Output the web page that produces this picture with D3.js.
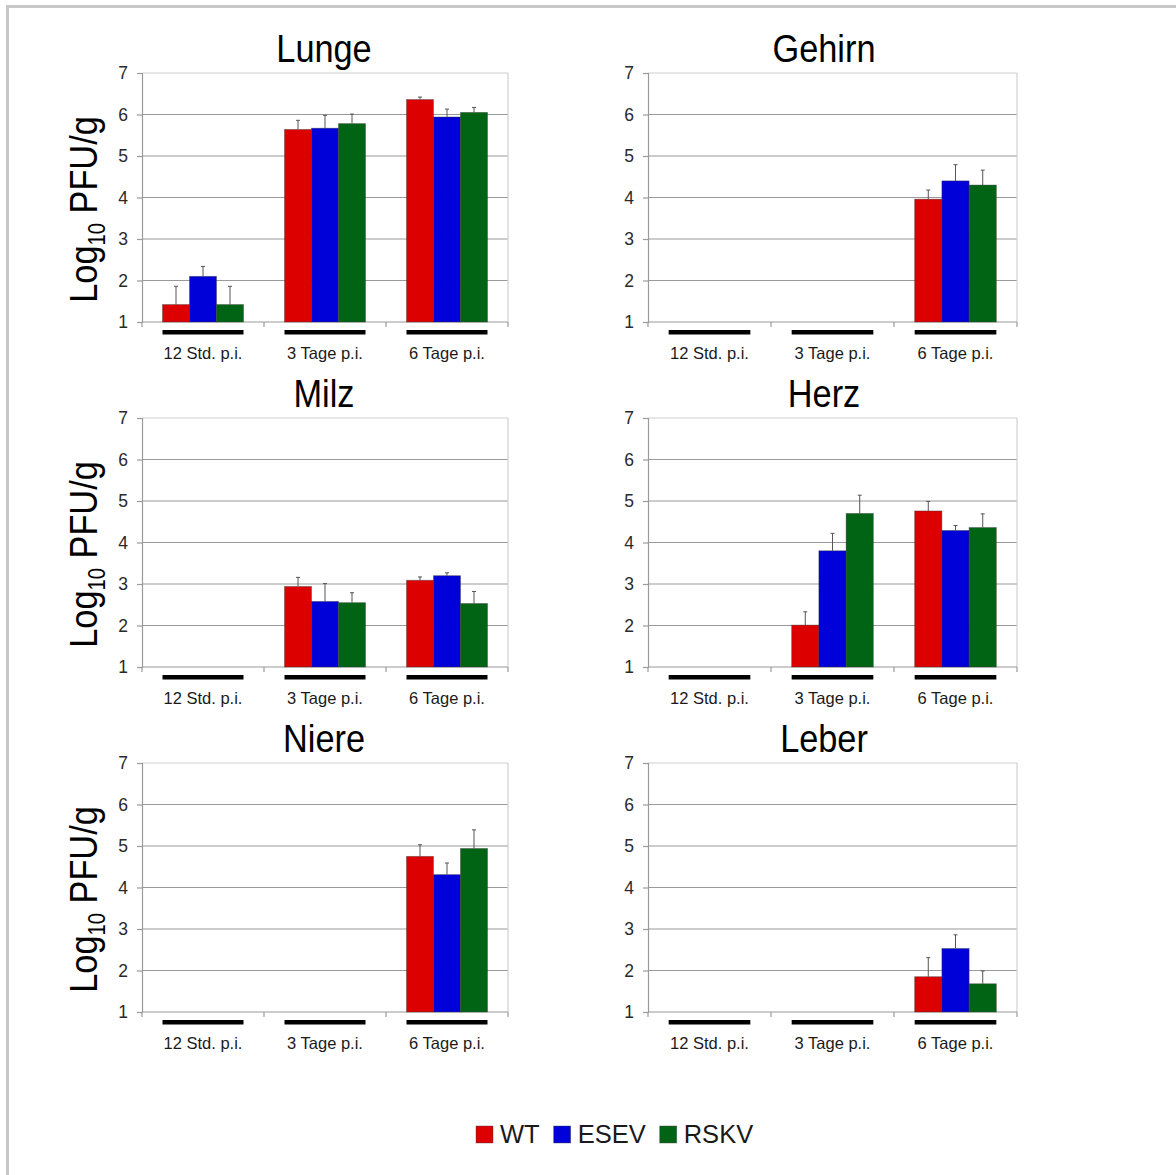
<!DOCTYPE html>
<html>
<head>
<meta charset="utf-8">
<script src="https://cdn.jsdelivr.net/npm/d3@7"></script>
<style>
  html, body { margin: 0; padding: 0; background: #fff; }
  svg { display: block; }
  text { font-family: "Liberation Sans", Arial, sans-serif; }
</style>
</head>
<body>
<svg id="chart" width="1176" height="1175"></svg>
<script>
// ---------- data ----------
const categories = ["12 Std. p.i.", "3 Tage p.i.", "6 Tage p.i."];
const series = ["WT", "ESEV", "RSKV"];
const seriesColors = ["#dc0000", "#0000d8", "#006414"];
const organs = ["Lunge", "Gehirn", "Milz", "Herz", "Niere", "Leber"];
const yTicks = [1, 2, 3, 4, 5, 6, 7];

// rows: WT, ESEV, RSKV ; columns: categories (null = no bar)
const lungeMean  = [[1.42, 5.64, 6.36], [2.10, 5.67, 5.94], [1.42, 5.78, 6.05]];
const lungeErr   = [[0.44, 0.22, 0.06], [0.24, 0.31, 0.19], [0.44, 0.23, 0.12]];
const gehirnMean = [[null, null, 3.96], [null, null, 4.40], [null, null, 4.30]];
const gehirnErr  = [[null, null, 0.22], [null, null, 0.39], [null, null, 0.36]];
const milzMean   = [[null, 2.94, 3.09], [null, 2.58, 3.20], [null, 2.55, 2.53]];
const milzErr    = [[null, 0.22, 0.08], [null, 0.43, 0.07], [null, 0.24, 0.29]];
const herzMean   = [[null, 2.01, 4.76], [null, 3.80, 4.29], [null, 4.70, 4.36]];
const herzErr    = [[null, 0.32, 0.23], [null, 0.42, 0.12], [null, 0.44, 0.33]];
const niereMean  = [[null, null, 4.75], [null, null, 4.31], [null, null, 4.94]];
const niereErr   = [[null, null, 0.28], [null, null, 0.28], [null, null, 0.45]];
const leberMean  = [[null, null, 1.85], [null, null, 2.53], [null, null, 1.68]];
const leberErr   = [[null, null, 0.46], [null, null, 0.33], [null, null, 0.31]];

const means = [lungeMean, gehirnMean, milzMean, herzMean, niereMean, leberMean];
const errs  = [lungeErr, gehirnErr, milzErr, herzErr, niereErr, leberErr];

// ---------- layout ----------
const svg = d3.select("#chart");
const colX = [[142, 508], [648, 1017]];
const rowY = [73, 418, 763];
const plotH = 249;
const titleCx = [324, 824];
const groupFrac = 81 / 122;

// frame lines (top & left)
svg.append("rect").attr("x", 6).attr("y", 5).attr("width", 1170).attr("height", 3).attr("fill", "#c8c8c8");
svg.append("rect").attr("x", 6).attr("y", 5).attr("width", 3).attr("height", 1170).attr("fill", "#c8c8c8");

organs.forEach((organ, i) => {
  const col = i % 2, row = Math.floor(i / 2);
  const [x0, x1] = colX[col];
  const top = rowY[row], bottom = top + plotH;
  const g = svg.append("g");

  const x = d3.scaleBand().domain(categories).range([x0, x1]).padding(0);
  const inset = x.bandwidth() * (1 - groupFrac) / 2;
  const xs = d3.scaleBand().domain(series).range([inset, x.bandwidth() - inset]).padding(0);
  const y = d3.scaleLinear().domain([1, 7]).range([bottom, top]);

  // gridlines
  g.selectAll("line.grid").data(yTicks.slice(1)).join("line")
    .attr("x1", x0).attr("x2", x1)
    .attr("y1", d => y(d)).attr("y2", d => y(d))
    .attr("stroke", d => d === 7 ? "#d0d0d0" : "#9a9a9a").attr("stroke-width", 1.2);
  // right border
  g.append("line").attr("x1", x1).attr("x2", x1).attr("y1", top).attr("y2", bottom)
    .attr("stroke", "#d0d0d0").attr("stroke-width", 1.2);

  // y axis
  const ya = g.append("g").attr("transform", `translate(${x0},0)`)
    .call(d3.axisLeft(y).tickValues(yTicks).tickSize(5).tickPadding(9).tickFormat(d3.format("d")));
  ya.select(".domain").attr("stroke", "#9a9a9a").attr("stroke-width", 1.2);
  ya.selectAll(".tick line").attr("stroke", "#9a9a9a").attr("stroke-width", 1.2);
  ya.selectAll(".tick text").attr("font-size", 17.5).attr("fill", "#2a2a2a")
    .attr("font-family", "'Liberation Sans', Arial, sans-serif");

  // x axis line with separators
  g.append("line").attr("x1", x0).attr("x2", x1).attr("y1", bottom).attr("y2", bottom)
    .attr("stroke", "#9a9a9a").attr("stroke-width", 1.2);
  const seps = categories.map(c => x(c)).concat([x1]);
  g.selectAll("line.sep").data(seps).join("line")
    .attr("x1", d => d).attr("x2", d => d).attr("y1", bottom).attr("y2", bottom + 5)
    .attr("stroke", "#9a9a9a").attr("stroke-width", 1.2);

  // black bars below axis
  g.selectAll("rect.blk").data(categories).join("rect")
    .attr("x", c => x(c) + inset).attr("width", x.bandwidth() - 2 * inset)
    .attr("y", bottom + 8).attr("height", 4.5).attr("fill", "#000");

  // category labels
  const xa = g.append("g").attr("transform", `translate(0,${bottom})`)
    .call(d3.axisBottom(x).tickSize(0).tickPadding(25));
  xa.select(".domain").remove();
  xa.selectAll(".tick text").attr("font-size", 16.5).attr("fill", "#1a1a1a")
    .attr("font-family", "'Liberation Sans', Arial, sans-serif");

  // bars
  const m = means[i], e = errs[i];
  const barData = [];
  series.forEach((s, si) => categories.forEach((c, ci) => {
    if (m[si][ci] != null) barData.push({ s, si, c, v: m[si][ci], err: e[si][ci] });
  }));
  g.selectAll("rect.bar").data(barData).join("rect")
    .attr("x", d => x(d.c) + xs(d.s)).attr("width", xs.bandwidth())
    .attr("y", d => y(d.v)).attr("height", d => y(1) - y(d.v))
    .attr("fill", d => seriesColors[d.si])
    .attr("stroke", "#3a3a3a").attr("stroke-opacity", 0.5).attr("stroke-width", 0.8);
  // error bars
  const eb = g.selectAll("g.err").data(barData).join("g");
  eb.append("line")
    .attr("x1", d => x(d.c) + xs(d.s) + xs.bandwidth() / 2)
    .attr("x2", d => x(d.c) + xs(d.s) + xs.bandwidth() / 2)
    .attr("y1", d => y(d.v)).attr("y2", d => y(d.v + d.err))
    .attr("stroke", "#555").attr("stroke-width", 1);
  eb.append("line")
    .attr("x1", d => x(d.c) + xs(d.s) + xs.bandwidth() / 2 - 2)
    .attr("x2", d => x(d.c) + xs(d.s) + xs.bandwidth() / 2 + 2)
    .attr("y1", d => y(d.v + d.err)).attr("y2", d => y(d.v + d.err))
    .attr("stroke", "#555").attr("stroke-width", 1);

  // title
  g.append("text")
    .attr("transform", `translate(${titleCx[col]},${top - 11}) scale(0.88,1)`)
    .attr("text-anchor", "middle").attr("font-size", 39).attr("fill", "#000")
    .text(organ);

  // y label (left column only)
  if (col === 0) {
    const yl = g.append("text")
      .attr("transform", `translate(97,${(top + bottom) / 2 + 12}) rotate(-90) scale(0.88,1)`)
      .attr("text-anchor", "middle").attr("font-size", 39).attr("fill", "#000");
    yl.append("tspan").text("Log");
    yl.append("tspan").attr("font-size", 23).attr("dy", 8).text("10");
    yl.append("tspan").attr("dy", -8).text(" PFU/g");
  }
});

// legend
const legend = svg.append("g").attr("transform", "translate(476,1126)");
let lx = 0;
series.forEach((s, si) => {
  legend.append("rect").attr("x", lx).attr("y", 0).attr("width", 17).attr("height", 17)
    .attr("fill", seriesColors[si]).attr("stroke", "#444").attr("stroke-opacity", 0.5).attr("stroke-width", 0.8);
  const t = legend.append("text").attr("x", lx + 24).attr("y", 17)
    .attr("font-size", 25.5).attr("fill", "#1a1a1a").text(s);
  lx += 24 + t.node().getComputedTextLength() + 14;
});
</script>
</body>
</html>
